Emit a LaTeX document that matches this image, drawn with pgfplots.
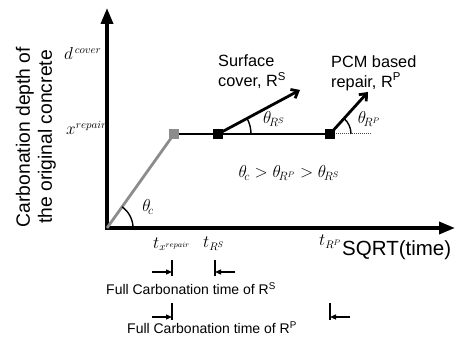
\documentclass[border=0pt]{standalone}
\usepackage{pgfplots}
\pgfplotsset{compat=1.18}
\usepackage{fontspec}
\setmainfont{Liberation Sans}
\usetikzlibrary{arrows.meta}
\begin{document}
\begin{tikzpicture}
\begin{axis}[
  width=457pt, height=340pt, scale only axis,
  xmin=0, xmax=457, ymin=0, ymax=340,
  axis lines=none, clip=false,
  ticks=none,
]
\coordinate (sw) at (rel axis cs:0,0);
\coordinate (ne) at (rel axis cs:1,1);
% axes
\addplot[black, line width=3.5pt, -{Triangle[width=12pt,length=16pt]}] coordinates {(107,110.3) (107,332)};
\addplot[black, line width=3.5pt, -{Triangle[width=12pt,length=16pt]}] coordinates {(105.3,112) (455,112)};
% carbonation lines
\addplot[gray!90, line width=2.8pt] coordinates {(107,112) (174,206)};
\addplot[black, line width=2.8pt] coordinates {(174,206) (330,206)};
\addplot[black, line width=2.8pt, -{Straight Barb[width=10pt,length=6pt]}] coordinates {(218,206) (300,250)};
\addplot[black, line width=2.8pt, -{Straight Barb[width=10pt,length=6pt]}] coordinates {(330,206) (368,248)};
\addplot[black!70, line width=1pt, densely dotted] coordinates {(330,206) (372,206)};
\addplot[only marks, mark=square*, mark size=4.5pt, gray!90] coordinates {(174,206)};
\addplot[only marks, mark=square*, mark size=4.5pt, black] coordinates {(218,206) (330,206)};
% angle arcs
\draw[line width=1.4pt] (axis cs:133,112) arc[start angle=0, end angle=54.5, radius=26pt];
\draw[line width=1.4pt] (axis cs:251,206) arc[start angle=0, end angle=28.2, radius=33pt];
\draw[line width=1.4pt] (axis cs:351,206) arc[start angle=0, end angle=47.8, radius=21pt];
% angle labels
\node[font=\fontsize{17}{19}\selectfont] at (axis cs:148,133) {$\theta_{\!c}$};
\node[font=\fontsize{17}{19}\selectfont] at (axis cs:274,221) {$\theta_{\!R^{\scriptscriptstyle S}}$};
\node[font=\fontsize{17}{19}\selectfont] at (axis cs:369,221) {$\theta_{\!R^{\scriptscriptstyle P}}$};
\node[font=\fontsize{17}{19}\selectfont] at (axis cs:289,167) {$\theta_{\!c} > \theta_{\!R^{\scriptscriptstyle P}} > \theta_{\!R^{\scriptscriptstyle S}}$};
% texts
\node[anchor=north west, align=left, inner sep=0pt, font=\fontsize{16.3}{20}\selectfont] at (axis cs:218,285)
  {Surface\\cover, R\textsuperscript{S}};
\node[anchor=north west, align=left, inner sep=0pt, font=\fontsize{16.3}{20}\selectfont] at (axis cs:331,285)
  {PCM based\\repair, R\textsuperscript{P}};
% y tick-like labels
\node[anchor=west, inner sep=0pt, font=\fontsize{16}{18}\selectfont] at (axis cs:64,286) {$d^{\,cover}$};
\node[anchor=west, inner sep=0pt, font=\fontsize{16}{18}\selectfont] at (axis cs:66,212) {$x^{repair}$};
% y label
\node[rotate=90, align=center, inner sep=0pt, font=\fontsize{19.3}{22}\selectfont] at (axis cs:36,203)
  {Carbonation depth of\\the original concrete};
% x labels
\node[anchor=west, inner sep=0pt, font=\fontsize{16}{18}\selectfont] at (axis cs:153,96) {$t_{x^{\scriptscriptstyle repair}}$};
\node[anchor=west, inner sep=0pt, font=\fontsize{16}{18}\selectfont] at (axis cs:203,96) {$t_{R^{\scriptscriptstyle S}}$};
\node[anchor=west, inner sep=0pt, font=\fontsize{16}{18}\selectfont] at (axis cs:319,98) {$t_{R^{\scriptscriptstyle P}}$};
\node[anchor=west, inner sep=0pt, font=\fontsize{20.5}{22}\selectfont] at (axis cs:342,90) {SQRT(time)};
% brackets
\addplot[black, line width=1.3pt] coordinates {(172,80) (172,64)};
\addplot[black, line width=1.3pt, -{Triangle[width=5pt,length=6pt]}] coordinates {(152,68) (172,68)};
\addplot[black, line width=1.3pt] coordinates {(215,80) (215,64)};
\addplot[black, line width=1.3pt, -{Triangle[width=5pt,length=6pt]}] coordinates {(235,68) (215,68)};
\node[anchor=west, inner sep=0pt, font=\fontsize{14}{16}\selectfont] at (axis cs:106,51) {Full Carbonation time of R\textsuperscript{S}};
\addplot[black, line width=1.3pt] coordinates {(172,37) (172,20)};
\addplot[black, line width=1.3pt, -{Triangle[width=5pt,length=6pt]}] coordinates {(152,23) (172,23)};
\addplot[black, line width=1.3pt] coordinates {(330,37) (330,20)};
\addplot[black, line width=1.3pt, -{Triangle[width=5pt,length=6pt]}] coordinates {(350,23) (330,23)};
\node[anchor=west, inner sep=0pt, font=\fontsize{14}{16}\selectfont] at (axis cs:127,12) {Full Carbonation time of R\textsuperscript{P}};
\end{axis}
\pgfresetboundingbox
\path (sw) rectangle (ne);
\end{tikzpicture}
\end{document}
